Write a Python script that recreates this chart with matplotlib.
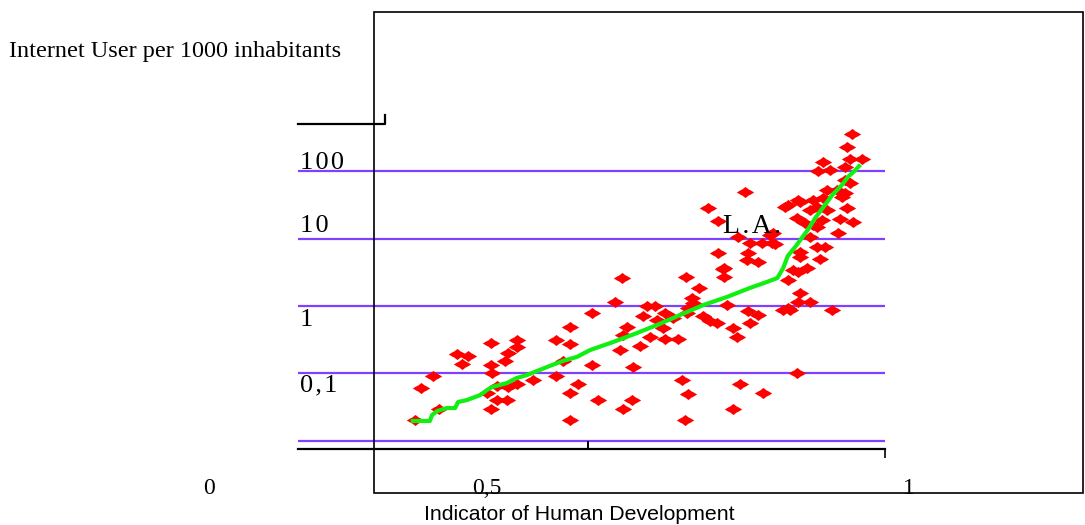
import matplotlib
matplotlib.use("Agg")
import matplotlib.pyplot as plt
from matplotlib.path import Path
from matplotlib.patches import Rectangle

# Human development index vs. internet users per 1000 inhabitants (one point per country)
hdi = [0.367, 0.399, 0.375, 0.391, 0.424, 0.438, 0.430, 0.469, 0.504, 0.504,
       0.492, 0.488, 0.469, 0.471, 0.477, 0.492, 0.504, 0.464, 0.477, 0.491,
       0.469, 0.526, 0.557, 0.557, 0.576, 0.576, 0.566, 0.587, 0.576, 0.576,
       0.605, 0.605, 0.614, 0.646, 0.732, 0.783, 0.783, 0.750, 0.636, 0.740,
       0.680, 0.690, 0.735, 0.787, 0.674, 0.704, 0.693, 0.715, 0.733, 0.755,
       0.764, 0.774, 0.653, 0.647, 0.684, 0.701, 0.704, 0.721, 0.795, 0.801,
       0.670, 0.643, 0.661, 0.727, 0.735, 0.805, 0.659, 0.647, 0.795, 0.731,
       0.836, 0.816, 0.829, 0.818, 0.863, 0.814, 0.829, 0.811, 0.762, 0.775,
       0.802, 0.818, 0.834, 0.848, 0.845, 0.816, 0.775, 0.782, 0.869, 0.886,
       0.899, 0.882, 0.892, 0.903, 0.886, 0.895, 0.876, 0.869, 0.886, 0.899,
       0.869, 0.741, 0.956, 0.949, 0.953, 0.969, 0.917, 0.910, 0.946, 0.926,
       0.946, 0.953, 0.922, 0.935, 0.946, 0.942, 0.883, 0.903, 0.917, 0.908,
       0.922, 0.949, 0.865, 0.915, 0.939, 0.957, 0.908, 0.937, 0.899, 0.849,
       0.852, 0.908, 0.919, 0.913, 0.886, 0.883, 0.872, 0.929, 0.883, 0.882]
users = [0.0205, 0.0298, 0.061, 0.092, 0.194, 0.182, 0.138, 0.283, 0.313, 0.247,
         0.201, 0.153, 0.134, 0.102, 0.065, 0.063, 0.070, 0.051, 0.041, 0.041,
         0.030, 0.080, 0.092, 0.313, 0.489, 0.274, 0.153, 0.070, 0.051, 0.0205,
         0.788, 0.134, 0.041, 2.60, 2.69, 3.66, 2.69, 1.85, 1.15, 1.31,
         1.0, 1.0, 0.934, 1.03, 0.711, 0.788, 0.621, 0.664, 0.788, 0.711,
         0.600, 0.560, 0.489, 0.372, 0.347, 0.472, 0.324, 0.324, 0.472, 0.347,
         0.255, 0.223, 0.125, 0.080, 0.050, 0.070, 0.041, 0.030, 0.030, 0.0205,
         0.051, 0.843, 0.736, 0.560, 0.872, 4.80, 4.49, 48.9, 28.3, 18.2,
         10.5, 8.58, 8.58, 8.58, 11.3, 6.10, 6.10, 3.53, 31.3, 34.7,
         26.4, 20.1, 17.0, 15.8, 6.31, 3.66, 3.41, 2.43, 1.56, 1.15,
         0.934, 1.11, 353, 227, 151, 151, 136, 100, 115, 103,
         73.6, 66.4, 52.3, 52.3, 47.2, 41.2, 37.2, 37.2, 39.8, 29.3,
         26.4, 28.3, 29.3, 18.8, 19.4, 17.6, 14.8, 12.1, 10.5, 12.1,
         8.29, 7.48, 7.48, 4.97, 5.32, 3.19, 0.872, 0.872, 1.15, 0.102]

# running trend through the sorted countries
trend_hdi = [0.364, 0.387, 0.390, 0.397, 0.410, 0.421, 0.425, 0.437, 0.455, 0.464,
             0.471, 0.491, 0.504, 0.518, 0.535, 0.552, 0.566, 0.585, 0.603, 0.634,
             0.666, 0.693, 0.724, 0.755, 0.787, 0.818, 0.841, 0.855, 0.863, 0.869,
             0.879, 0.888, 0.896, 0.906, 0.919, 0.929, 0.942, 0.950, 0.960, 0.965]
trend_users = [0.0198, 0.0198, 0.0243, 0.0278, 0.0308, 0.0308, 0.0378, 0.0405, 0.048, 0.057,
               0.0631, 0.0723, 0.0858, 0.095, 0.113, 0.134, 0.153, 0.176, 0.223, 0.293,
               0.398, 0.523, 0.736, 1.03, 1.36, 1.85, 2.27, 2.60, 3.66, 5.50,
               7.48, 10.2, 13.4, 20.1, 31.3, 44.1, 62.1, 81.3, 103, 118]

grid_levels = [0.01, 0.1, 1, 10, 100]
level_labels = ["100", "10", "1", "0,1"]
x_labels = ["0", "0,5", "1"]

W, H = 1085, 525
serif = "Liberation Serif"
sans = "Liberation Sans"


def fxy(x, y):
    return x / W, 1 - y / H


fig = plt.figure(figsize=(W / 100, H / 100), dpi=100)
ax = fig.add_axes([298 / W, 76 / H, 587 / W, 325 / H])

# country marker: flat four-pointed blob
star = Path([(-1, 0), (-0.6, 0.24), (-0.35, 0.36), (-0.18, 0.5), (0, 0.64),
             (0.18, 0.5), (0.35, 0.36), (0.6, 0.24), (1, 0),
             (0.6, -0.24), (0.35, -0.36), (0.18, -0.5), (0, -0.64),
             (-0.18, -0.5), (-0.35, -0.36), (-0.6, -0.24), (-1, 0)], closed=True)

for lv in grid_levels:
    ax.axhline(lv, color="#7f40ff", lw=1.6, zorder=1)

ax.plot(hdi, users, linestyle="None", marker=star, markersize=12.5,
        color="#ff0000", markeredgewidth=0, zorder=2)
ax.plot(trend_hdi, trend_users, color="#11ee11", lw=3, zorder=3)

ax.set_yscale("log")
ax.set_xlim(0.2094, 1.0)
ax.set_ylim(0.00761, 497)

for s in ["top", "left", "right"]:
    ax.spines[s].set_visible(False)
ax.spines["bottom"].set_linewidth(1.6)
ax.set_yticks([])
ax.set_yticks([], minor=True)
ax.set_xticks([0.6])
ax.set_xticks([1.0], minor=True)
ax.tick_params(axis="x", which="major", direction="in", length=6, width=1.4, labelbottom=False)
ax.tick_params(axis="x", which="minor", direction="out", length=6.5, width=1.2, labelbottom=False)
ax.patch.set_visible(False)

# short upper bracket of the y axis
ax.plot([0, 87 / 587, 87 / 587], [1, 1, 1 + 9 / 325], color="black", lw=1.6,
        transform=ax.transAxes, clip_on=False)

# outer frame
fig.patches.append(Rectangle(fxy(374, 493), (1083 - 374) / W, (493 - 12) / H,
                             transform=fig.transFigure, fill=False, lw=1.2,
                             edgecolor="black", zorder=5))

fig.text(*fxy(9, 57), "Internet User per 1000 inhabitants", family=serif,
         fontsize=17.5, va="baseline", ha="left")

label_pos = [(300, 169), (300, 232), (300, 326), (300, 391)]
for (x, y), t in zip(label_pos, level_labels):
    spaced = "\u200a".join(t)
    fig.text(*fxy(x, y), spaced, family=serif, fontsize=19, va="baseline", ha="left")

xl_pos = [(203, 494), (472, 494), (903, 494)]
for (x, y), t in zip(xl_pos, x_labels):
    fig.text(*fxy(x, y), t, family=serif, fontsize=17, va="baseline", ha="left")

fig.text(*fxy(723, 233), "\u200a".join("L.A."), family=serif, fontsize=20,
         va="baseline", ha="left", zorder=10)
fig.text(*fxy(579, 520), "Indicator of Human Development", family=sans,
         fontsize=15.3, va="baseline", ha="center")

fig.savefig("out.png", dpi=100)
